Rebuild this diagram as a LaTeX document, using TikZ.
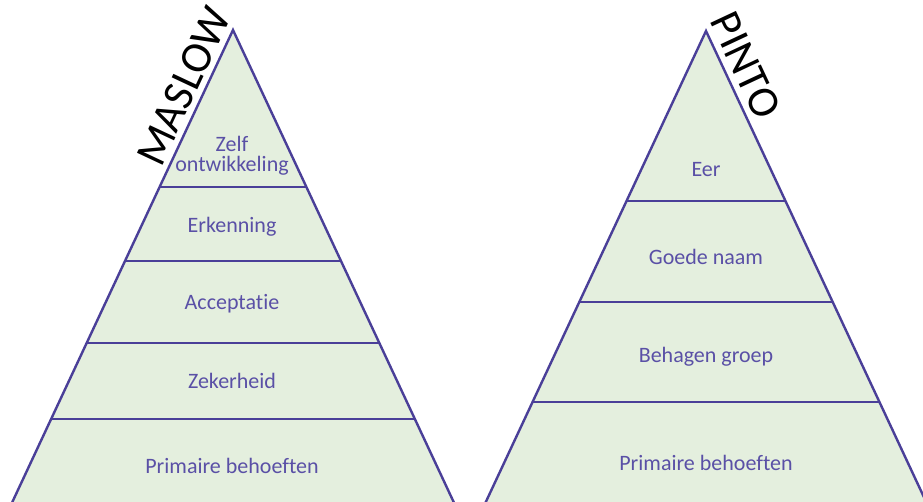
\documentclass[tikz,border=0pt]{standalone}
\usepackage{fontspec}
\setmainfont[Ligatures={NoCommon}]{Carlito}
\definecolor{edge}{HTML}{4A3F98}
\definecolor{txt}{HTML}{5A50A6}
\definecolor{fillg}{HTML}{E4EFDE}
\begin{document}
\begin{tikzpicture}[x=1pt,y=-1pt,
  edgeline/.style={draw=edge,line width=2.4pt},
  lbl/.style={text=txt,font=\fontsize{22}{20}\selectfont,anchor=base,inner sep=0pt,align=center},
  title/.style={text=black,font=\fontsize{44}{44}\selectfont,inner sep=0pt}]
\def\s{0.4675}
\useasboundingbox (0,0) rectangle (923,502);
\clip (0,0) rectangle (923,502);
% Left pyramid
\coordinate (LA) at (233,30);
\coordinate (LBL) at ({233-(520-30)*\s},520);
\coordinate (LBR) at ({233+(520-30)*\s},520);
\fill[fillg] (LA) -- (LBL) -- (LBR) -- cycle;
\foreach \yy/\nm in {187/l1,261/l2,343/l3,419/l4}{
  \coordinate (\nm a) at ({233-(\yy-30)*\s},\yy);
  \coordinate (\nm b) at ({233+(\yy-30)*\s},\yy);
  \draw[edgeline] (\nm a) -- (\nm b);
}
\draw[edgeline,line join=miter] (LBL) -- (LA) -- (LBR);
% Right pyramid
\coordinate (RA) at (706,31);
\coordinate (RBL) at ({706-(520-31)*\s},520);
\coordinate (RBR) at ({706+(520-31)*\s},520);
\fill[fillg] (RA) -- (RBL) -- (RBR) -- cycle;
\foreach \yy/\nm in {201/r1,302/r2,402/r3}{
  \coordinate (\nm a) at ({706-(\yy-31)*\s},\yy);
  \coordinate (\nm b) at ({706+(\yy-31)*\s},\yy);
  \draw[edgeline] (\nm a) -- (\nm b);
}
\draw[edgeline,line join=miter] (RBL) -- (RA) -- (RBR);
% Left labels
\node[lbl] (zelf) at (232,172) {Zelf\\ontwikkeling};
\node[lbl] (erk) at (232,233) {Erkenning};
\node[lbl] (acc) at (232,310) {Acceptatie};
\node[lbl] (zek) at (232,388) {Zekerheid};
\node[lbl] (prl) at (232,473) {Primaire behoeften};
% Right labels
\node[lbl] (eer) at (706,177) {Eer};
\node[lbl] (goede) at (706,265) {Goede naam};
\node[lbl] (behagen) at (706,362) {Behagen groep};
\node[lbl] (prr) at (706,470) {Primaire behoeften};
% Titles
\node[title,rotate=64.9] (maslow) at (184,86) {MASLOW};
\node[title,rotate=-64.9] (pinto) at (746,65) {PINTO};
\end{tikzpicture}
\end{document}
